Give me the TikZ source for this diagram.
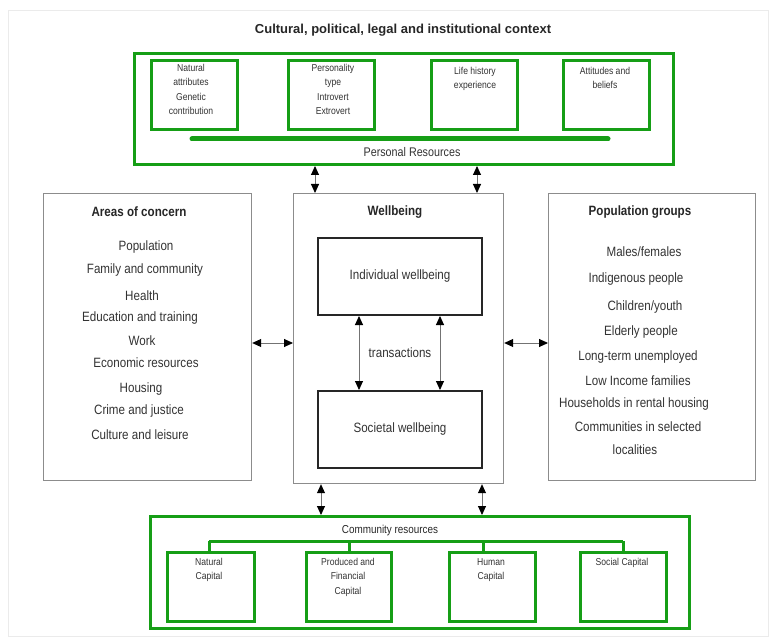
\documentclass[tikz,border=0pt]{standalone}
\usepackage{fontspec}
\setmainfont{Liberation Sans}
\newfontfamily\narrowfont[FakeStretch=0.86]{Liberation Sans}
\usetikzlibrary{arrows.meta}
\definecolor{grn}{RGB}{22,158,22}
\definecolor{txt}{RGB}{50,50,50}
\definecolor{frm}{RGB}{140,140,140}
\begin{document}
\begin{tikzpicture}[x=1pt,y=-1pt,
  gbox/.style={draw=grn, line width=3pt, inner sep=0pt, anchor=north west},
  pbox/.style={draw=frm, line width=1.2pt, inner sep=0pt, anchor=north west},
  wbox/.style={draw=black!85, line width=2pt, inner sep=0pt, anchor=north west},
  body/.style={font=\narrowfont\fontsize{13.5}{15}\selectfont, text=txt, inner sep=0pt},
  bodyb/.style={font=\narrowfont\bfseries\fontsize{13.5}{15}\selectfont, text=black!85, inner sep=0pt},
  small/.style={font=\narrowfont\fontsize{10}{14.5}\selectfont, text=txt, inner sep=0pt, align=center, anchor=north},
  dbl/.style={{Triangle[color=black,length=9pt,width=8pt]}-{Triangle[color=black,length=9pt,width=8pt]}, draw=black!55, line width=0.9pt},
  tree/.style={draw=grn, line width=3pt}
]
\useasboundingbox (0,0) rectangle (774,639);
\draw[black!8, line width=0.8pt] (8,10) rectangle (768,636);

% title
\node[font=\bfseries\fontsize{13}{15}\selectfont, text=black!85, inner sep=0pt] (title) at (403,30) {Cultural, political, legal and institutional context};

% personal resources
\node[gbox, minimum width=539, minimum height=111] (pers) at (133,52) {};
\node[gbox, minimum width=86, minimum height=69] (nat) at (150,59) {};
\node[gbox, minimum width=86, minimum height=69] (pty) at (287,59) {};
\node[gbox, minimum width=86, minimum height=69] (lhe) at (430,59) {};
\node[gbox, minimum width=86, minimum height=69] (att) at (562,59) {};
\draw[grn, line width=5pt, line cap=round] (192,139) -- (608,139);
\node[small] (natt) at (191,64) {Natural\\attributes\\Genetic\\contribution};
\node[small] (ptyt) at (333,64) {Personality\\type\\Introvert\\Extrovert};
\node[small] (lhet) at (475,67) {Life history\\experience};
\node[small] (attt) at (605,67) {Attitudes and\\beliefs};
\node[font=\narrowfont\fontsize{12.5}{14}\selectfont, text=txt, inner sep=0pt] (prt) at (412,152) {Personal Resources};

% three columns
\node[pbox, minimum width=208, minimum height=287] (aoc) at (43,193) {};
\node[pbox, minimum width=210, minimum height=290] (wb) at (293,193) {};
\node[pbox, minimum width=207, minimum height=287] (pg) at (548,193) {};

% areas of concern
\node[bodyb] (aoct) at (139,212) {Areas of concern};
\node[body] (a1) at (146,247) {Population};
\node[body] (a2) at (145,270) {Family and community};
\node[body] (a3) at (142,296) {Health};
\node[body] (a4) at (140,318) {Education and training};
\node[body] (a5) at (142,341) {Work};
\node[body] (a6) at (146,363) {Economic resources};
\node[body] (a7) at (141,389) {Housing};
\node[body] (a8) at (139,411) {Crime and justice};
\node[body] (a9) at (140,435) {Culture and leisure};

% population groups
\node[bodyb] (pgt) at (640,212) {Population groups};
\node[body] (p1) at (644,252) {Males/females};
\node[body] (p2) at (636,279) {Indigenous people};
\node[body] (p3) at (645,307) {Children/youth};
\node[body] (p4) at (641,332) {Elderly people};
\node[body] (p5) at (638,357) {Long-term unemployed};
\node[body] (p6) at (638,381) {Low Income families};
\node[body] (p7) at (634,404) {Households in rental housing};
\node[body] (p8) at (638,427) {Communities in selected};
\node[body] (p9) at (635,450) {localities};

% wellbeing
\node[bodyb] (wbt) at (395,212) {Wellbeing};
\node[wbox, minimum width=164, minimum height=77] (iw) at (317,237) {};
\node[wbox, minimum width=164, minimum height=77] (sw) at (317,390) {};
\node[body] (iwt) at (iw.center) {Individual wellbeing};
\node[body] (swt) at (sw.center) {Societal wellbeing};
\node[body] (trt) at (400,353) {transactions};

% community resources
\node[gbox, minimum width=539, minimum height=112] (com) at (149,515) {};
\node[font=\narrowfont\fontsize{11.5}{14}\selectfont, text=black!85, inner sep=0pt] (comt) at (390,531) {Community resources};
\node[gbox, minimum width=87, minimum height=69] (ncap) at (166,551) {};
\node[gbox, minimum width=85, minimum height=69] (pcap) at (305,551) {};
\node[gbox, minimum width=86, minimum height=69] (hcap) at (448,551) {};
\node[gbox, minimum width=86, minimum height=69] (scap) at (579,551) {};
\node[small] (ncapt) at (209,558) {Natural\\Capital};
\node[small] (pcapt) at (348,558) {Produced and\\Financial\\Capital};
\node[small] (hcapt) at (491,558) {Human\\Capital};
\node[small] (scapt) at (622,558) {Social Capital};

% tree
\coordinate (t1) at (209,541);
\coordinate (t2) at (349,541);
\coordinate (t3) at (483,541);
\coordinate (t4) at (623,541);
\draw[tree] (t1) -- (t4);
\draw[tree] (t1) -- (ncap.north -| t1);
\draw[tree] (t2) -- (pcap.north -| t2);
\draw[tree] (t3) -- (hcap.north -| t3);
\draw[tree] (t4) -- (scap.north -| t4);

% arrows
\coordinate (xa) at (315,0);
\coordinate (xb) at (477,0);
\coordinate (xc) at (321,0);
\coordinate (xd) at (482,0);
\coordinate (xt1) at (359,0);
\coordinate (xt2) at (440,0);
\coordinate (ya) at (0,343);
\draw[dbl] (pers.south -| xa) -- (wb.north -| xa);
\draw[dbl] (pers.south -| xb) -- (wb.north -| xb);
\draw[dbl] (wb.south -| xc) -- (com.north -| xc);
\draw[dbl] (wb.south -| xd) -- (com.north -| xd);
\draw[dbl] (aoc.east |- ya) -- (wb.west |- ya);
\draw[dbl] (wb.east |- ya) -- (pg.west |- ya);
\draw[dbl] (iw.south -| xt1) -- (sw.north -| xt1);
\draw[dbl] (iw.south -| xt2) -- (sw.north -| xt2);
\end{tikzpicture}
\end{document}
